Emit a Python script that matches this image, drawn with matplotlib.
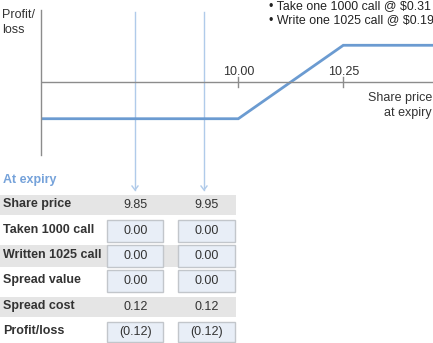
import matplotlib
matplotlib.use('Agg')
from matplotlib import pyplot as plt
from matplotlib.patches import Rectangle

plt.rcParams['font.family'] = ['Liberation Sans', 'DejaVu Sans']

# payoff of the bull call spread (share price at expiry vs profit/loss)
payoff_price = [9.535, 10.00, 10.25, 10.47]
payoff_pl = [-0.12, -0.12, 0.12, 0.12]
tick_prices = [10.00, 10.25]
tick_labels = ['10.00', '10.25']

legs = ['\u2022 Take one 1000 call @ $0.31', '\u2022 Write one 1025 call @ $0.19']

# table at expiry
row_labels = ['Share price', 'Taken 1000 call', 'Written 1025 call',
              'Spread value', 'Spread cost', 'Profit/loss']
col_a = ['9.85', '0.00', '0.00', '0.00', '0.12', '(0.12)']
col_b = ['9.95', '0.00', '0.00', '0.00', '0.12', '(0.12)']
row_band = [True, False, True, False, True, False]
row_box = [False, True, True, True, False, True]

W, H = 433, 343
fig = plt.figure(figsize=(W / 100, H / 100), dpi=100)

line_col = '#6b9bd1'
axis_col = '#8c8c8c'
text_col = '#333333'
pale = '#b0cbea'

# chart axes placed in pixel terms
left, right, top, bottom = 40.7, 433, 10, 155
ax = fig.add_axes([left / W, 1 - bottom / H, (right - left) / W, (bottom - top) / H])
px_per_x = 420.0
px_per_y = 306.0
x0 = 10.00 - (238.3 - left) / px_per_x
x1 = 10.00 + (right - 238.3) / px_per_x
ax.set_xlim(x0, x1)
ax.set_ylim(-(bottom - 82) / px_per_y, (82 - top) / px_per_y)
ax.plot(payoff_price, payoff_pl, color=line_col, lw=2, solid_joinstyle='miter')
ax.axhline(0, color=axis_col, lw=1)
for s in ['top', 'right', 'bottom']:
    ax.spines[s].set_visible(False)
ax.spines['left'].set_color(axis_col)
ax.spines['left'].set_linewidth(1)
ax.set_yticks([])
ax.set_xticks([])
for p, lab in zip(tick_prices, tick_labels):
    ax.plot([p, p], [-0.016, 0.016], color=axis_col, lw=1)
    ax.text(p, 0.034, lab, ha='center', va='center', fontsize=9, color=text_col)
ax.patch.set_alpha(0)

# overlay in pixel coordinates for notes and the table
ov = fig.add_axes([0, 0, 1, 1], zorder=-1)
ov.set_xlim(0, W)
ov.set_ylim(H, 0)
ov.axis('off')

ov.text(2, 15, 'Profit/', ha='left', va='center', fontsize=9, color=text_col)
ov.text(2, 30, 'loss', ha='left', va='center', fontsize=9, color=text_col)
ov.text(432, 98, 'Share price', ha='right', va='center', fontsize=9, color=text_col)
ov.text(432, 113, 'at expiry', ha='right', va='center', fontsize=9, color=text_col)
for i, s in enumerate(legs):
    ov.text(269, 6 + i * 14.5, s, ha='left', va='center', fontsize=8.9, color='#222222')

# guide arrows down to the table columns
cols_x = [135, 204]
for cx in cols_x:
    ov.plot([cx, cx], [12, 190], color=pale, lw=1)
    ov.plot([cx - 3, cx, cx + 3], [186, 190, 186], color=pale, lw=1)

ov.text(3, 180, 'At expiry', ha='left', va='center', fontsize=9,
        fontweight='bold', color='#75a2da')

row_top = [195, 220, 245, 270, 296.7, 321.7]
row_h = [20, 21.7, 21.7, 21.7, 20, 20]
box_x = [107, 178.3]
box_w = 56.4
for i, lab in enumerate(row_labels):
    y = row_top[i]
    h = row_h[i]
    if row_band[i]:
        ov.add_patch(Rectangle((0, y), 236, h, facecolor='#e5e5e5', edgecolor='none'))
    if row_box[i]:
        for bx in box_x:
            ov.add_patch(Rectangle((bx, y), box_w, h, facecolor='#e8eef7',
                                   edgecolor='#c2c6cb', lw=1))
    cy = y + h / 2
    ov.text(3, cy - 1, lab, ha='left', va='center', fontsize=9, fontweight='bold',
            color=text_col)
    for bx, val in zip(box_x, [col_a[i], col_b[i]]):
        ov.text(bx + box_w / 2, cy + 0.5, val, ha='center', va='center', fontsize=9,
                color=text_col)

fig.savefig('out.png', dpi=100)
